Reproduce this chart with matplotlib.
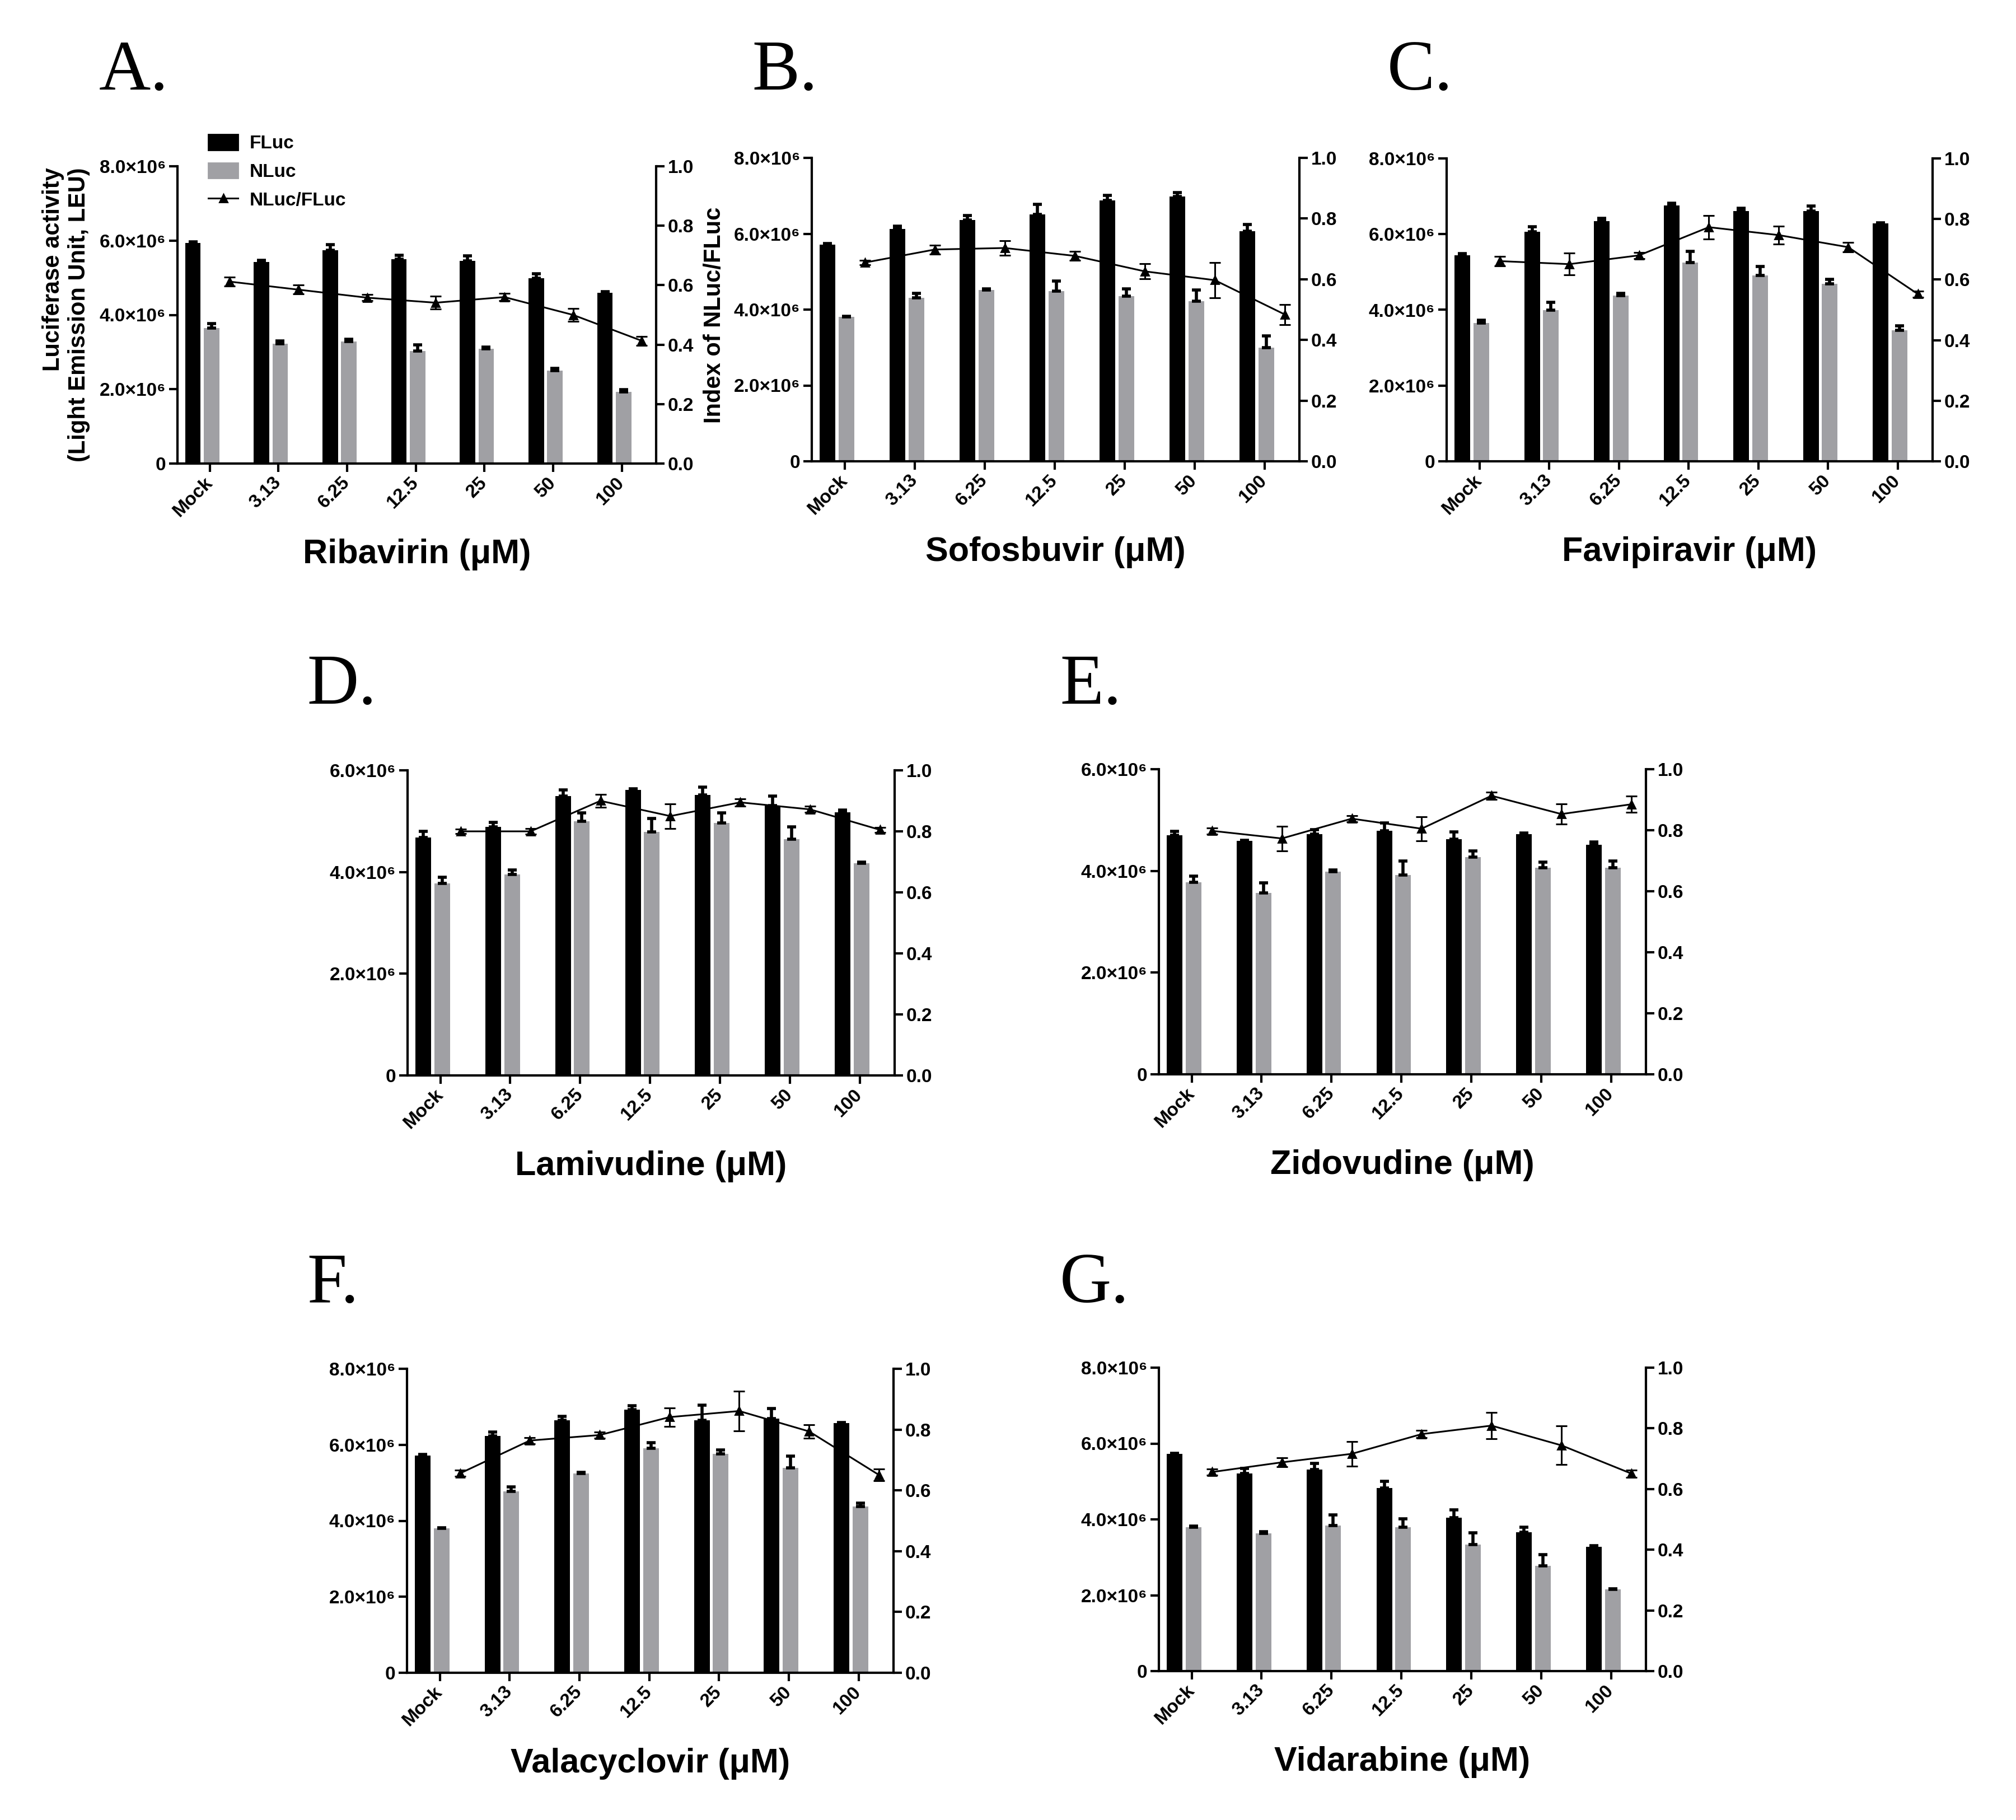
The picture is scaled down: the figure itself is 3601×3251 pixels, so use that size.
import numpy as np
import matplotlib
matplotlib.use('Agg')
import matplotlib.pyplot as plt
from matplotlib.patches import Patch
from matplotlib.lines import Line2D

plt.rcParams['font.family'] = ['Liberation Sans', 'DejaVu Sans']
plt.rcParams['font.weight'] = 'bold'
plt.rcParams['axes.labelweight'] = 'bold'

W, H, DPI = 3601, 3251, 200

doses = ['Mock', '3.13', '6.25', '12.5', '25', '50', '100']

# luciferase values in 1e6 LEU, ratio = NLuc/FLuc index
riba_fluc = [5.94, 5.42, 5.74, 5.50, 5.46, 4.98, 4.59]
riba_fluc_err = [0.03, 0.05, 0.15, 0.10, 0.13, 0.12, 0.03]
riba_nluc = [3.65, 3.22, 3.29, 3.03, 3.09, 2.50, 1.93]
riba_nluc_err = [0.11, 0.08, 0.05, 0.16, 0.05, 0.06, 0.06]
riba_ratio = [0.612, 0.585, 0.558, 0.541, 0.560, 0.500, 0.413]
riba_ratio_err = [0.015, 0.015, 0.010, 0.022, 0.012, 0.022, 0.015]

sofo_fluc = [5.71, 6.13, 6.36, 6.51, 6.88, 6.98, 6.07]
sofo_fluc_err = [0.03, 0.07, 0.12, 0.26, 0.13, 0.10, 0.18]
sofo_nluc = [3.81, 4.31, 4.51, 4.49, 4.35, 4.22, 3.00]
sofo_nluc_err = [0.02, 0.12, 0.03, 0.27, 0.19, 0.30, 0.31]
sofo_ratio = [0.655, 0.698, 0.703, 0.677, 0.626, 0.597, 0.484]
sofo_ratio_err = [0.008, 0.015, 0.024, 0.015, 0.025, 0.058, 0.033]

favi_fluc = [5.44, 6.06, 6.34, 6.76, 6.61, 6.61, 6.28]
favi_fluc_err = [0.04, 0.13, 0.08, 0.06, 0.07, 0.13, 0.02]
favi_nluc = [3.65, 3.99, 4.38, 5.25, 4.91, 4.69, 3.46]
favi_nluc_err = [0.08, 0.21, 0.06, 0.30, 0.23, 0.11, 0.12]
favi_ratio = [0.661, 0.651, 0.680, 0.773, 0.747, 0.707, 0.552]
favi_ratio_err = [0.015, 0.036, 0.010, 0.039, 0.029, 0.015, 0.010]

lami_fluc = [4.68, 4.89, 5.49, 5.62, 5.52, 5.31, 5.17]
lami_fluc_err = [0.12, 0.09, 0.12, 0.02, 0.15, 0.18, 0.05]
lami_nluc = [3.78, 3.95, 5.00, 4.79, 4.96, 4.65, 4.17]
lami_nluc_err = [0.12, 0.09, 0.16, 0.26, 0.20, 0.24, 0.02]
lami_ratio = [0.800, 0.800, 0.900, 0.850, 0.895, 0.872, 0.805]
lami_ratio_err = [0.008, 0.010, 0.022, 0.040, 0.012, 0.010, 0.008]

zido_fluc = [4.70, 4.59, 4.72, 4.79, 4.62, 4.72, 4.51]
zido_fluc_err = [0.08, 0.01, 0.09, 0.15, 0.15, 0.03, 0.06]
zido_nluc = [3.78, 3.57, 3.99, 3.92, 4.27, 4.06, 4.06]
zido_nluc_err = [0.12, 0.20, 0.03, 0.27, 0.12, 0.11, 0.13]
zido_ratio = [0.798, 0.773, 0.838, 0.805, 0.913, 0.853, 0.885]
zido_ratio_err = [0.010, 0.040, 0.010, 0.039, 0.012, 0.033, 0.027]

vala_fluc = [5.72, 6.23, 6.65, 6.93, 6.65, 6.69, 6.57]
vala_fluc_err = [0.02, 0.10, 0.10, 0.10, 0.39, 0.27, 0.01]
vala_nluc = [3.80, 4.77, 5.25, 5.91, 5.76, 5.39, 4.37]
vala_nluc_err = [0.02, 0.12, 0.02, 0.15, 0.10, 0.31, 0.10]
vala_ratio = [0.656, 0.764, 0.782, 0.841, 0.861, 0.794, 0.651]
vala_ratio_err = [0.010, 0.010, 0.010, 0.031, 0.066, 0.022, 0.020]

vida_fluc = [5.72, 5.21, 5.31, 4.82, 4.04, 3.66, 3.28]
vida_fluc_err = [0.02, 0.14, 0.16, 0.18, 0.21, 0.14, 0.02]
vida_nluc = [3.80, 3.63, 3.84, 3.80, 3.34, 2.77, 2.15]
vida_nluc_err = [0.02, 0.04, 0.28, 0.22, 0.31, 0.30, 0.02]
vida_ratio = [0.656, 0.688, 0.716, 0.781, 0.809, 0.744, 0.651]
vida_ratio_err = [0.010, 0.015, 0.041, 0.012, 0.044, 0.064, 0.012]

panels = [
    ('A.', 'Ribavirin', riba_fluc, riba_fluc_err, riba_nluc, riba_nluc_err, riba_ratio, riba_ratio_err, 8),
    ('B.', 'Sofosbuvir', sofo_fluc, sofo_fluc_err, sofo_nluc, sofo_nluc_err, sofo_ratio, sofo_ratio_err, 8),
    ('C.', 'Favipiravir', favi_fluc, favi_fluc_err, favi_nluc, favi_nluc_err, favi_ratio, favi_ratio_err, 8),
    ('D.', 'Lamivudine', lami_fluc, lami_fluc_err, lami_nluc, lami_nluc_err, lami_ratio, lami_ratio_err, 6),
    ('E.', 'Zidovudine', zido_fluc, zido_fluc_err, zido_nluc, zido_nluc_err, zido_ratio, zido_ratio_err, 6),
    ('F.', 'Valacyclovir', vala_fluc, vala_fluc_err, vala_nluc, vala_nluc_err, vala_ratio, vala_ratio_err, 8),
    ('G.', 'Vidarabine', vida_fluc, vida_fluc_err, vida_nluc, vida_nluc_err, vida_ratio, vida_ratio_err, 8),
]

# axes boxes in pixels (left, right, top, bottom) and letter positions (x, baseline)
boxes = [(317, 1172, 297, 828), (1450, 2321, 282, 824), (2584, 3452, 283, 824),
         (728, 1598, 1376, 1921), (2070, 2940, 1374, 1919),
         (727, 1596, 2445, 2988), (2070, 2940, 2443, 2985)]
letter_pos = [(177, 160), (1343, 160), (2478, 160),
              (548, 1257), (1893, 1257), (548, 2326), (1893, 2326)]

GRAY = '#a0a0a4'
fig = plt.figure(figsize=(W / DPI, H / DPI), dpi=DPI)

for k, (letter, drug, fl, fle, nl, nle, rt, rte, ymax) in enumerate(panels):
    l, r, t, b = boxes[k]
    ax = fig.add_axes([l / W, 1 - b / H, (r - l) / W, (b - t) / H])
    x = np.arange(len(doses))
    fl = np.array(fl) * 1e6
    nl = np.array(nl) * 1e6
    fle = np.array(fle) * 1e6
    nle = np.array(nle) * 1e6
    ax.bar(x - 0.245, fl, 0.225, color='black', zorder=2)
    ax.bar(x + 0.025, nl, 0.225, color=GRAY, zorder=2)
    ax.errorbar(x - 0.245, fl, yerr=[np.zeros(7), fle], fmt='none', ecolor='black',
                elinewidth=2, capsize=3, capthick=2, zorder=3)
    ax.errorbar(x + 0.025, nl, yerr=[np.zeros(7), nle], fmt='none', ecolor='black',
                elinewidth=2, capsize=3, capthick=2, zorder=3)
    ax.set_xlim(-0.47, 6.5)
    ax.set_ylim(0, ymax * 1e6)
    yt = np.arange(0, ymax + 1, 2)
    ax.set_yticks(yt * 1e6)
    ax.set_yticklabels(['0'] + ['%.1f×10⁶' % v for v in yt[1:]])
    ax.set_xticks(x)
    ax.set_xticklabels(doses, rotation=45, ha='right', va='center',
                       rotation_mode='anchor', fontsize=13)
    ax.tick_params(direction='out', length=5.5, width=1.5, labelsize=12, pad=2)
    ax.tick_params(axis='x', pad=5)
    for s in ['top', 'right']:
        ax.spines[s].set_visible(False)
    for s in ['left', 'bottom']:
        ax.spines[s].set_linewidth(1.5)
    ax.set_xlabel(drug + ' (μM)', fontsize=22, labelpad=12)

    ax2 = ax.twinx()
    ax2.errorbar(x + 0.29, rt, yerr=rte, color='black', marker='^', ms=5, lw=1.1,
                 elinewidth=1.1, capsize=3.5, capthick=1.1)
    ax2.set_ylim(0, 1.0)
    ax2.set_yticks(np.arange(0, 1.01, 0.2))
    ax2.set_yticklabels(['%.1f' % v for v in np.arange(0, 1.01, 0.2)])
    ax2.tick_params(direction='out', length=5.5, width=1.5, labelsize=12, pad=2)
    for s in ['top', 'left', 'bottom']:
        ax2.spines[s].set_visible(False)
    ax2.spines['right'].set_linewidth(1.5)

    fig.text(letter_pos[k][0] / W, 1 - letter_pos[k][1] / H, letter,
             family=['Liberation Serif', 'DejaVu Serif'], fontweight='normal',
             fontsize=46, va='baseline', ha='left')

    if k == 0:
        ax.set_ylabel('Luciferase activity\n(Light Emission Unit, LEU)', fontsize=15,
                      labelpad=6, multialignment='right')
        ax2.set_ylabel('Index of NLuc/FLuc', fontsize=15, rotation=90, labelpad=6)
        handles = [Patch(color='black'), Patch(color=GRAY),
                   Line2D([], [], color='black', marker='^', ms=5, lw=1.1)]
        ax2.legend(handles, ['FLuc', 'NLuc', 'NLuc/FLuc'], loc='upper left',
                   bbox_to_anchor=(372 / W, 1 - 240 / H), bbox_transform=fig.transFigure,
                   frameon=False, fontsize=12, handlelength=1.6, handleheight=0.9,
                   handletextpad=0.6, labelspacing=0.55, borderpad=0, borderaxespad=0)

fig.savefig('out.png', dpi=DPI)
